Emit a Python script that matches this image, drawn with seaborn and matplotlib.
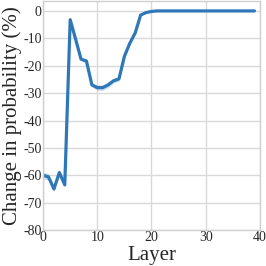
import numpy as np
import pandas as pd
import matplotlib
matplotlib.use("Agg")
import matplotlib.pyplot as plt
import seaborn as sns

# change in probability (%) per layer
layers = list(range(40))
change = [-60.0, -60.6, -65.0, -59.0, -63.5, -3.2, -10.3, -17.6, -18.3, -27.0,
          -28.0, -28.0, -27.0, -25.5, -24.8, -16.6, -11.8, -8.0, -1.5, -0.6,
          -0.2, 0.0, 0.0, 0.0, 0.0, 0.0, 0.0, 0.0, 0.0, 0.0,
          0.0, 0.0, 0.0, 0.0, 0.0, 0.0, 0.0, 0.0, 0.0, 0.0]
# half-width of the confidence band
band = [1.2, 1.2, 1.0, 1.0, 0.8, 0.5, 0.5, 0.6, 0.8, 0.8,
        1.0, 1.0, 1.0, 0.8, 0.8, 0.6, 0.5, 0.4, 0.3, 0.2,
        0.1, 0.0, 0.0, 0.0, 0.0, 0.0, 0.0, 0.0, 0.0, 0.0,
        0.0, 0.0, 0.0, 0.0, 0.0, 0.0, 0.0, 0.0, 0.0, 0.0]

df = pd.DataFrame({"Layer": layers, "change": change, "band": band})

sns.set_theme(style="whitegrid")
plt.rcParams["font.family"] = ["Liberation Serif", "DejaVu Serif"]
plt.rcParams["axes.unicode_minus"] = False

fig = plt.figure(figsize=(2.66, 2.66), dpi=100)
ax = fig.add_axes([0.162, 0.135, 0.815, 0.861])

color = "#2f78b8"
ax.fill_between(df["Layer"], df["change"] - df["band"], df["change"] + df["band"],
                color=color, alpha=0.25, linewidth=0)
sns.lineplot(data=df, x="Layer", y="change", ax=ax, color=color, linewidth=2.3)

ax.set_xlim(0, 40)
ax.set_ylim(-80, 3.6)
ax.set_xticks([0, 10, 20, 30, 40])
ax.set_yticks(np.arange(-80, 1, 10))
ax.tick_params(axis="both", labelsize=10, pad=1, length=0)
ax.set_xlabel("Layer", fontsize=15, labelpad=1)
ax.set_ylabel("Change in probability (%)", fontsize=15, labelpad=1)
for s in ax.spines.values():
    s.set_color("#d0d0d0")
    s.set_linewidth(1.0)
ax.grid(color="#d9d9d9", linewidth=1.0)

fig.savefig("out.png", dpi=100)
plt.close(fig)
